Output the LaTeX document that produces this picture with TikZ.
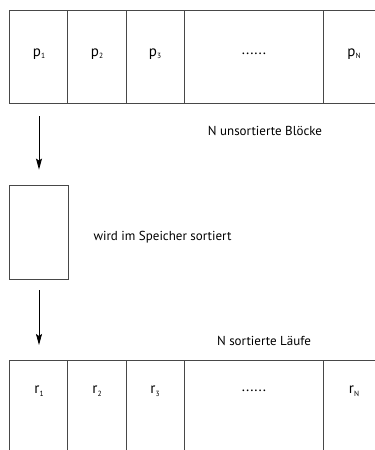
\documentclass[tikz,border=0pt]{standalone}
\usepackage{fontspec}
\setmainfont{PT Sans}
\usetikzlibrary{arrows.meta}
\usetikzlibrary{positioning}
\newcommand\sixdots{......}
\newcommand\idx[2]{#1\raisebox{-0.35ex}{\fontsize{7.5}{8}\selectfont #2}}

\begin{document}
\begin{tikzpicture}[x=1pt, y=-1pt, font=\fontsize{13}{15}\selectfont,
  frame/.style={draw=black!72, line width=0.9pt},
  cell/.style={font=\fontsize{15}{17}\selectfont},
  flow/.style={draw=black, line width=0.8pt, -{Stealth[length=11pt,width=6pt,inset=2pt]}}]
 \useasboundingbox (0,0) rectangle (375,450);

 %unsorted blocks
 \def\dy{10.5}
 \def\hh{93}
 \draw[frame] (375,\dy) -- (9,\dy) -- (9,\dy+\hh) -- (375,\dy+\hh);
 \foreach \x in {67.5, 126, 184.5, 323.5} {
    \draw[frame] (\x,\dy) -- (\x,\dy+\hh);
 }
 \foreach \x/\name/\lab in {39/p1/\idx{p}{1}, 97/p2/\idx{p}{2}, 155/p3/\idx{p}{3}, 254/pdots/\sixdots, 354/pN/\idx{p}{N}} {
    \node[cell] (\name) at (\x, 54) {\lab};
 }
 \node (unsorted) at (265,131) {N unsortierte Blöcke};

 %memory
 \node[frame, minimum width=59pt, minimum height=94pt, inner sep=0pt] (sortbox) at (39,232) {};
 \node[anchor=west] (sorting) at (90,237) {wird im Speicher sortiert};

 %sorted runs
 \def\dy{360}
 \draw[frame] (375,\dy) -- (9,\dy) -- (9,455);
 \foreach \x in {67.5, 126, 184.5, 323.5} {
    \draw[frame] (\x,\dy) -- (\x,455);
 }
 \foreach \x/\name/\lab in {39/r1/\idx{r}{1}, 97/r2/\idx{r}{2}, 155/r3/\idx{r}{3}, 254/rdots/\sixdots, 354/rN/\idx{r}{N}} {
    \node[cell] (\name) at (\x, 391) {\lab};
 }
 \node (sorted) at (264,341) {N sortierte Läufe};

 \draw[flow] ([yshift=-62pt]p1.center) -- ([yshift=15pt]sortbox.north);
 \draw[flow] ([yshift=-11pt]sortbox.south) -- ([yshift=46pt]r1.center);

\end{tikzpicture}
\end{document}
